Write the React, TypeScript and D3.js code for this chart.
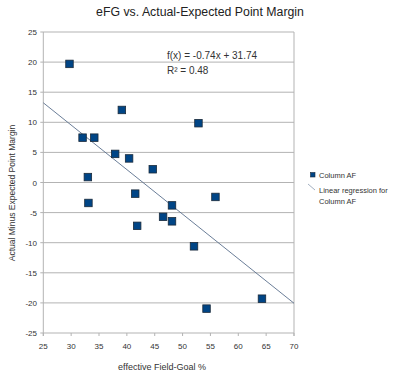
import React from "react";
import * as d3 from "d3";

const efg = [29.7, 39.1, 52.85, 32.05, 34.15, 37.9, 40.4, 44.65, 33.0, 33.1, 41.5, 48.1, 46.5, 48.1, 41.85, 52.05, 55.9, 54.3, 64.25];
const margin = [19.7, 12.05, 9.85, 7.45, 7.45, 4.75, 4.0, 2.2, 0.9, -3.4, -1.85, -3.8, -5.7, -6.45, -7.2, -10.6, -2.4, -20.95, -19.3];
const xTicks = [25, 30, 35, 40, 45, 50, 55, 60, 65, 70];
const yTicks = [-25, -20, -15, -10, -5, 0, 5, 10, 15, 20, 25];
const slope = -0.74;
const intercept = 31.74;

export default function App() {
  const W = 400, H = 387;
  const x = d3.scaleLinear().domain([25, 70]).range([43.3, 294]);
  const y = d3.scaleLinear().domain([-25, 25]).range([333, 32]);
  const font = "'Liberation Sans', Arial, sans-serif";
  const grid = "#b3b3b3";
  const txt = "#333";
  const line = d3.line<number>().x((d) => x(d)).y((d) => y(slope * d + intercept));
  const ms = 7.5;
  return (
    <svg width={W} height={H} style={{ position: "absolute", left: 0, top: 0, background: "#fff" }} fontFamily={font}>
      <text x={200} y={16} textAnchor="middle" fontSize={12.3} fill="#222">eFG vs. Actual-Expected Point Margin</text>
      {yTicks.map((t) => (
        <g key={"y" + t}>
          <line x1={x(25) - 3} x2={x(70)} y1={y(t)} y2={y(t)} stroke={grid} strokeWidth={1} />
          <text x={37} y={y(t) + 3} textAnchor="end" fontSize={8} fill={txt}>{t}</text>
        </g>
      ))}
      <line x1={x(25)} x2={x(25)} y1={y(25)} y2={y(-25) + 3} stroke={grid} />
      <line x1={x(70)} x2={x(70)} y1={y(25)} y2={y(-25) + 3} stroke={grid} />
      {xTicks.map((t) => (
        <g key={"x" + t}>
          <line x1={x(t)} x2={x(t)} y1={y(-25)} y2={y(-25) + 3} stroke={grid} />
          <text x={x(t)} y={y(-25) + 16} textAnchor="middle" fontSize={8} fill={txt}>{t}</text>
        </g>
      ))}
      <path d={line([25, 70]) || ""} stroke="#5a6f8c" strokeWidth={0.9} fill="none" />
      {efg.map((v, i) => (
        <rect key={i} x={x(v) - ms / 2} y={y(margin[i]) - ms / 2} width={ms} height={ms} fill="#004586" stroke="#1a2a3a" strokeWidth={0.8} />
      ))}
      <text x={167} y={59} fontSize={10} fill={txt}>f(x) = -0.74x + 31.74</text>
      <text x={167} y={74} fontSize={10} fill={txt}>R² = 0.48</text>
      <text transform={`translate(15,193) rotate(-90)`} textAnchor="middle" fontSize={8.5} fill={txt}>Actual Minus Expected Point Margin</text>
      <text x={162} y={370} textAnchor="middle" fontSize={9} fill={txt}>effective Field-Goal %</text>
      <rect x={310.5} y={172.5} width={4.5} height={4.5} fill="#004586" stroke="#1a2a3a" strokeWidth={0.6} />
      <text x={319} y={178} fontSize={7.5} fill={txt}>Column AF</text>
      <line x1={308} x2={315} y1={184} y2={190} stroke="#8a9ab0" strokeWidth={0.8} />
      <text x={319} y={193} fontSize={7.5} fill={txt}>Linear regression for</text>
      <text x={319} y={204} fontSize={7.5} fill={txt}>Column AF</text>
    </svg>
  );
}
